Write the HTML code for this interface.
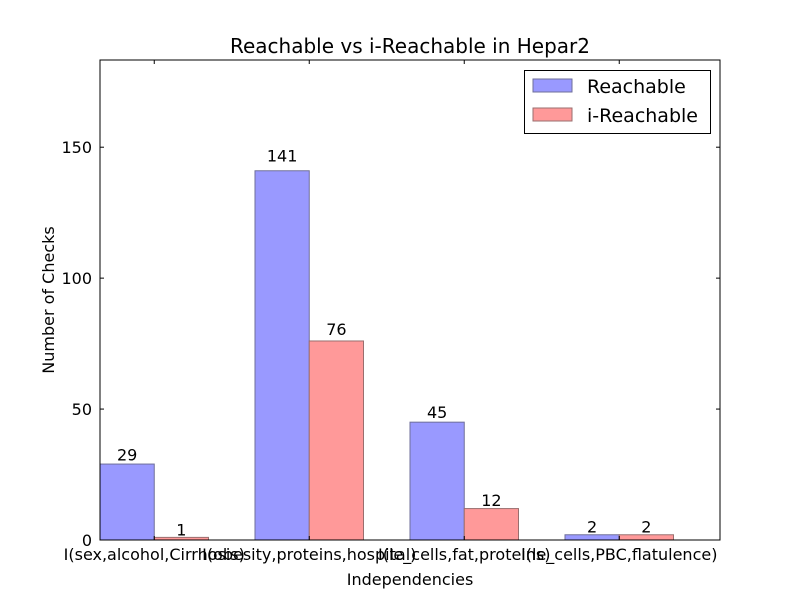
<!DOCTYPE html>
<html><head><meta charset="utf-8"><style>
html,body{margin:0;padding:0;background:#fff;}
svg text{font-family:"DejaVu Sans","Liberation Sans",sans-serif;fill:#000;}
</style></head><body>
<svg id="chart" width="800" height="600" xmlns="http://www.w3.org/2000/svg">
<rect width="800" height="600" fill="#fff"/>
</svg>
<script>
const categories = ["I(sex,alcohol,Cirrhosis)", "I(obesity,proteins,hospital)", "I(le_cells,fat,proteins)", "I(le_cells,PBC,flatulence)"];
const reachable = [29, 141, 45, 2];
const iReachable = [1, 76, 12, 2];
const yTicks = [0, 50, 100, 150];
const yMax = 183.3;

const svg = document.getElementById('chart');
const NS = 'http://www.w3.org/2000/svg';
const L = 100, R = 720, T = 60, B = 540;
const xs = v => L + (v / 4) * (R - L);
const ys = v => B - (v / yMax) * (B - T);
function mk(tag, attrs, parent) {
  const e = document.createElementNS(NS, tag);
  for (const k in attrs) e.setAttribute(k, attrs[k]);
  (parent || svg).appendChild(e);
  return e;
}
const W = 0.35;
categories.forEach((c, i) => {
  const b1 = mk('rect', {x: xs(i), y: ys(reachable[i]), width: xs(i + W) - xs(i), height: B - ys(reachable[i]), fill: '#9999ff', stroke: '#6e6e9a', 'stroke-width': 1});
  
  
  const b2 = mk('rect', {x: xs(i + W), y: ys(iReachable[i]), width: xs(i + 2 * W) - xs(i + W), height: B - ys(iReachable[i]), fill: '#ff9999', stroke: '#9a6e6e', 'stroke-width': 1});
  
  
  const t1 = mk('text', {x: xs(i + W / 2), y: ys(reachable[i] * 1.02) - 2, 'text-anchor': 'middle', 'font-size': 16});
  t1.textContent = reachable[i];
  
  
  const t2 = mk('text', {x: xs(i + 1.5 * W), y: ys(iReachable[i] * 1.02) - 2, 'text-anchor': 'middle', 'font-size': 16});
  t2.textContent = iReachable[i];
  
  
  const tx = xs(i + W);
  mk('line', {x1: tx, x2: tx, y1: B, y2: B - 4, stroke: '#000'});
  mk('line', {x1: tx, x2: tx, y1: T, y2: T + 4, stroke: '#000'});
  const xl = mk('text', {x: tx, y: B + 20, 'text-anchor': 'middle', 'font-size': 16});
  xl.textContent = c;
  
  
});
yTicks.forEach(v => {
  const y = ys(v);
  mk('line', {x1: L, x2: L + 4, y1: y, y2: y, stroke: '#000'});
  mk('line', {x1: R, x2: R - 4, y1: y, y2: y, stroke: '#000'});
  const t = mk('text', {x: L - 8, y: y + 6, 'text-anchor': 'end', 'font-size': 16});
  t.textContent = v;
  
  
});
const frame = mk('rect', {x: L, y: T, width: R - L, height: B - T, fill: 'none', stroke: '#000', 'stroke-width': 1});


const title = mk('text', {x: 410, y: 53, 'text-anchor': 'middle', 'font-size': 20});
title.textContent = 'Reachable vs i-Reachable in Hepar2';


const xt = mk('text', {x: 410, y: 585, 'text-anchor': 'middle', 'font-size': 16});
xt.textContent = 'Independencies';


const yt = mk('text', {x: 0, y: 0, 'text-anchor': 'middle', 'font-size': 16, transform: 'translate(54,300) rotate(-90)'});
yt.textContent = 'Number of Checks';


const lg = mk('g', {});


mk('rect', {x: 524.5, y: 70.5, width: 186, height: 63, fill: '#fff', stroke: '#000'}, lg);
const e1 = mk('rect', {x: 533, y: 79, width: 39, height: 13, fill: '#9999ff', stroke: '#6e6e9a'}, lg);


const l1 = mk('text', {x: 587, y: 93, 'font-size': 19}, lg);
l1.textContent = 'Reachable';
const e2 = mk('rect', {x: 533, y: 108, width: 39, height: 13, fill: '#ff9999', stroke: '#9a6e6e'}, lg);


const l2 = mk('text', {x: 587, y: 122, 'font-size': 19}, lg);
l2.textContent = 'i-Reachable';
</script>
</body></html>
